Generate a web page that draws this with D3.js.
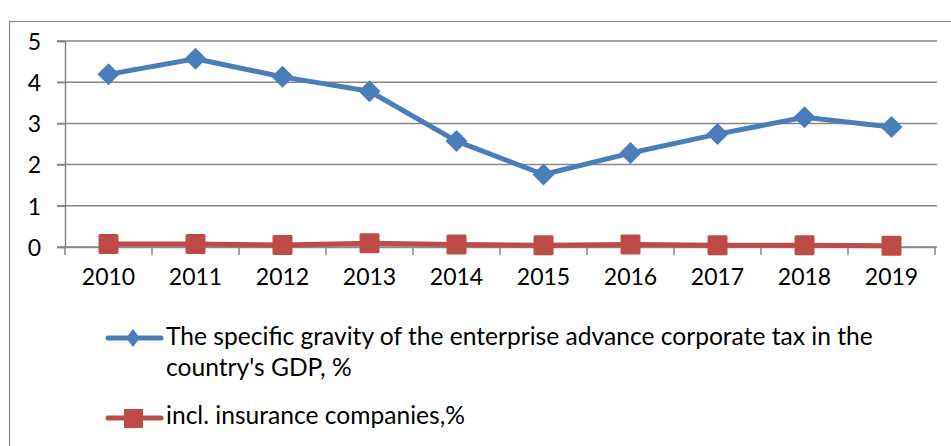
<!DOCTYPE html>
<html>
<head>
<meta charset="utf-8">
<script src="https://cdn.jsdelivr.net/npm/d3@7"></script>
<style>
  body { margin: 0; background: #fff; }
  svg { display: block; font-family: Lato, "Open Sans", sans-serif; }
</style>
</head>
<body>
<div id="chart"></div>
<script>
// Data
var years = ['2010', '2011', '2012', '2013', '2014', '2015', '2016', '2017', '2018', '2019'];
var gdp_share = [4.19, 4.57, 4.13, 3.78, 2.57, 1.76, 2.28, 2.74, 3.15, 2.91];
var insurance_share = [0.07, 0.07, 0.05, 0.09, 0.06, 0.04, 0.06, 0.04, 0.04, 0.03];
var y_ticks = [0, 1, 2, 3, 4, 5];
var series_names = [
    ['The specific gravity of the enterprise advance corporate tax in the', "country's GDP, %"],
    ['incl. insurance companies,%']
];

var width = 951;
var height = 446;
var blue = '#4A7EBB';
var red = '#BE4B48';
var grid = '#878787';

var svg = d3.select('#chart')
    .append('svg')
    .attr('width', width)
    .attr('height', height);

// chart border
svg.append('rect')
    .attr('x', 9.5)
    .attr('y', 21.5)
    .attr('width', 960)
    .attr('height', 460)
    .attr('fill', 'none')
    .attr('stroke', '#8c8c8c')
    .attr('stroke-width', 1.2);

// Scales
var scale_x = d3.scaleBand()
    .domain(years)
    .range([65, 935]);

var scale_y = d3.scaleLinear()
    .domain([0, 5])
    .range([247, 41]);

// Gridlines
svg.append('g')
    .selectAll('line')
    .data(y_ticks)
    .enter()
    .append('line')
    .attr('x1', 57)
    .attr('x2', 937)
    .attr('y1', function(d) { return scale_y(d); })
    .attr('y2', function(d) { return scale_y(d); })
    .attr('stroke', grid)
    .attr('stroke-width', 1.5);

// Y axis
var axis_y = d3.axisLeft(scale_y)
    .tickValues(y_ticks)
    .tickFormat(d3.format('d'))
    .tickSize(8)
    .tickPadding(16);

svg.append('g')
    .attr('class', 'y-axis')
    .attr('transform', 'translate(65,0)')
    .call(axis_y);

// X axis, ticks on band edges
var axis_x = d3.axisBottom(scale_x)
    .tickSize(0)
    .tickPadding(22);

svg.append('g')
    .attr('class', 'x-axis')
    .attr('transform', 'translate(0,247)')
    .call(axis_x);

svg.append('g')
    .selectAll('line')
    .data(years.concat(['end']))
    .enter()
    .append('line')
    .attr('x1', function(d, i) { return 65 + i * scale_x.step(); })
    .attr('x2', function(d, i) { return 65 + i * scale_x.step(); })
    .attr('y1', 247)
    .attr('y2', 255)
    .attr('stroke', grid)
    .attr('stroke-width', 1.5);

svg.selectAll('.domain').attr('stroke', grid).attr('stroke-width', 1.5);
svg.selectAll('.tick line').attr('stroke', grid).attr('stroke-width', 1.5);
svg.selectAll('.tick text')
    .attr('fill', '#000')
    .style('font-size', '23px')
    .style('font-family', 'Lato, sans-serif');
svg.selectAll('.y-axis .tick text').attr('dy', '0.36em');

var cx = function(d, i) { return scale_x(years[i]) + scale_x.bandwidth() / 2; };

// Lines
var line = d3.line()
    .x(function(d, i) { return cx(d, i); })
    .y(function(d) { return scale_y(d); });

svg.append('path')
    .datum(insurance_share)
    .attr('d', line)
    .attr('fill', 'none')
    .attr('stroke', red)
    .attr('stroke-width', 5);

svg.append('path')
    .datum(gdp_share)
    .attr('d', line)
    .attr('fill', 'none')
    .attr('stroke', blue)
    .attr('stroke-width', 5)
    .attr('stroke-linejoin', 'round');

var diamond = function(x, y, w, h) {
    return 'M' + x + ',' + (y - h) + 'L' + (x + w) + ',' + y + 'L' + x + ',' + (y + h) + 'L' + (x - w) + ',' + y + 'Z';
};

svg.append('g')
    .selectAll('rect')
    .data(insurance_share)
    .enter()
    .append('rect')
    .attr('x', function(d, i) { return cx(d, i) - 10; })
    .attr('y', function(d) { return scale_y(d) - 10; })
    .attr('width', 20)
    .attr('height', 20)
    .attr('rx', 1.5)
    .attr('fill', red);

svg.append('g')
    .selectAll('path')
    .data(gdp_share)
    .enter()
    .append('path')
    .attr('d', function(d, i) { return diamond(cx(d, i), scale_y(d), 11, 11); })
    .attr('fill', blue);

// Legend
var legend = svg.append('g');

legend.append('line')
    .attr('x1', 108).attr('x2', 161)
    .attr('y1', 338).attr('y2', 338)
    .attr('stroke', blue).attr('stroke-width', 5)
    .attr('stroke-linecap', 'round');
legend.append('path')
    .attr('d', diamond(133, 338, 7, 9))
    .attr('fill', blue);

legend.append('line')
    .attr('x1', 108).attr('x2', 161)
    .attr('y1', 418).attr('y2', 418)
    .attr('stroke', red).attr('stroke-width', 5)
    .attr('stroke-linecap', 'round');
legend.append('rect')
    .attr('x', 124).attr('y', 409)
    .attr('width', 19).attr('height', 19)
    .attr('fill', red);

var legend_text = legend.append('g')
    .style('font-size', '24.6px')
    .attr('fill', '#000');

legend_text.append('text')
    .attr('x', 166).attr('y', 345)
    .text(series_names[0][0]);
legend_text.append('text')
    .attr('x', 166).attr('y', 376)
    .text(series_names[0][1]);
legend_text.append('text')
    .attr('x', 166).attr('y', 424)
    .text(series_names[1][0]);
</script>
</body>
</html>
